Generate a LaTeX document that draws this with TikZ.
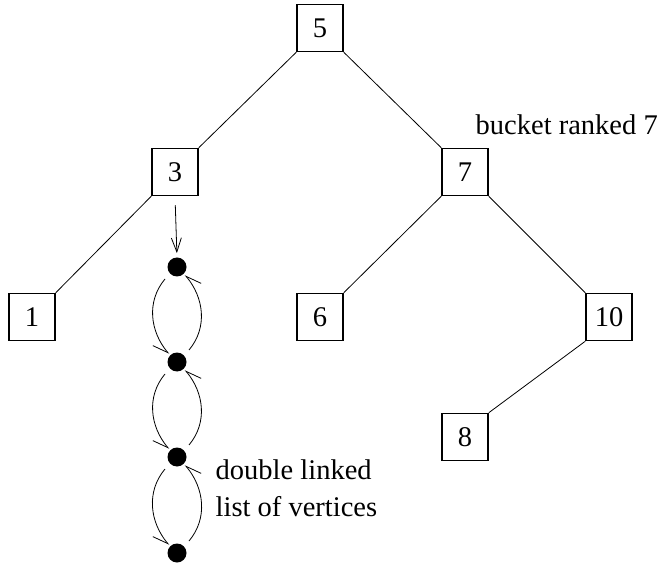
\documentclass[tikz,border=0pt]{standalone}
\usepackage{fontspec}
\setmainfont{Liberation Serif}
\usetikzlibrary{arrows.meta}

\begin{document}
\begin{tikzpicture}[x=1pt,y=1pt,line width=0.8pt,
    every node/.style={font=\fontsize{28.5}{32}\selectfont},
    box/.style={draw,line width=1.5pt,minimum width=46pt,minimum height=47pt,inner sep=0pt},
    dot/.style={circle,fill,minimum size=19pt,inner sep=0pt},
    arr/.style={-{Straight Barb[length=14pt,width=10pt]}},
    half/.style={-{Straight Barb[harpoon,swap,length=15pt,width=14pt]}}]
    \useasboundingbox (0,0) rectangle (660,573);
    \node[box] (n5) at (320,545) {5};
    \node[box] (n3) at (175,401) {3};
    \node[box] (n7) at (465,401) {7};
    \node[box] (n1) at (32,256) {1};
    \node[box] (n6) at (320,256) {6};
    \node[box] (n10) at (609,256) {10};
    \node[box] (n8) at (465,136) {8};
    \draw (n5.south west) -- (n3.north east);
    \draw (n5.south east) -- (n7.north west);
    \draw (n3.south west) -- (n1.north east);
    \draw (n7.south west) -- (n6.north east);
    \draw (n7.south east) -- (n10.north west);
    \draw (n10.south west) -- (n8.north east);
    \node[anchor=west] (bucket) at (472,448) {bucket ranked 7};

    \node[dot] (d1) at (177,306) {};
    \node[dot] (d2) at (177,211) {};
    \node[dot] (d3) at (177,116) {};
    \node[dot] (d4) at (177,20) {};
    \draw[arr,shorten <=9pt,shorten >=4pt] (n3.south) -- (d1.north);
    \draw[half] ([shift={(-5,-5)}]d1.225) to[out=230,in=130] ([shift={(-1,1)}]d2.135);
    \draw[half] ([shift={(5,5)}]d2.45) to[out=50,in=-50] ([shift={(1,-1)}]d1.-45);
    \draw[half] ([shift={(-5,-5)}]d2.225) to[out=230,in=130] ([shift={(-1,1)}]d3.135);
    \draw[half] ([shift={(5,5)}]d3.45) to[out=50,in=-50] ([shift={(1,-1)}]d2.-45);
    \draw[half] ([shift={(-5,-5)}]d3.225) to[out=230,in=130] ([shift={(-1,1)}]d4.135);
    \draw[half] ([shift={(5,5)}]d4.45) to[out=50,in=-50] ([shift={(1,-1)}]d3.-45);
    \node[anchor=west] (dbl) at (212,103) {double linked};
    \node[anchor=west] (lst) at (212,66) {list of vertices};
\end{tikzpicture}
\end{document}
